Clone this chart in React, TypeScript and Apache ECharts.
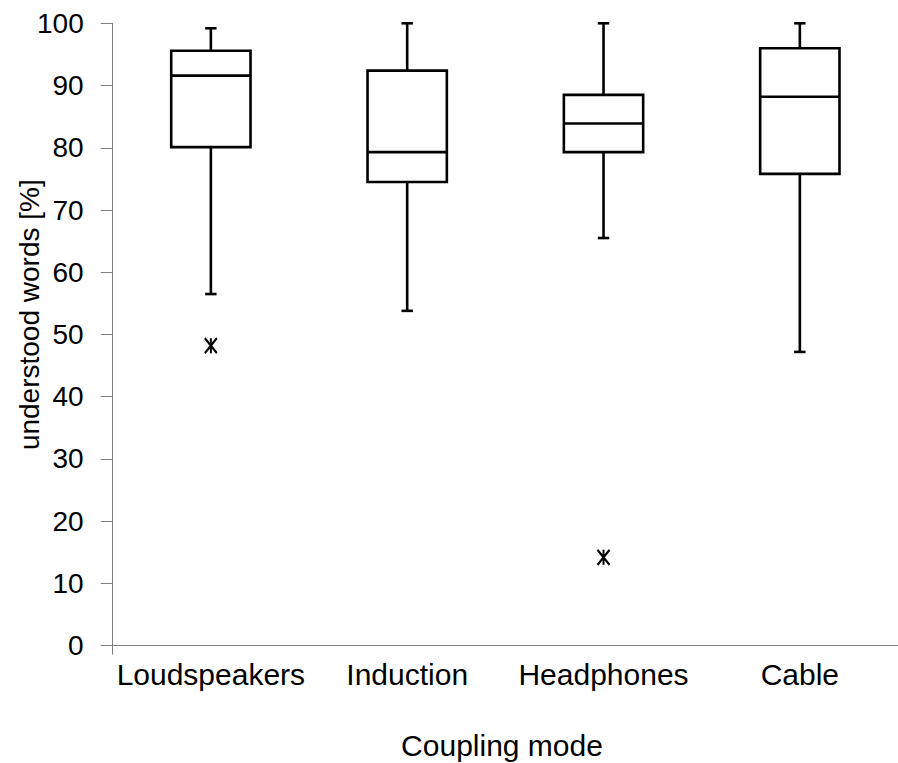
import React, { useEffect, useRef } from "react";
import * as echarts from "echarts";

const categories = ["Loudspeakers", "Induction", "Headphones", "Cable"];
const whiskerLow = [56.5, 53.8, 65.5, 47.2];
const quartile1 = [80.1, 74.5, 79.3, 75.8];
const medians = [91.6, 79.3, 83.9, 88.2];
const quartile3 = [95.6, 92.4, 88.5, 96.0];
const whiskerHigh = [99.2, 100, 100, 100];
const outlierCategory = [0, 2];
const outlierValue = [48.2, 14.2];
const yTicks = { min: 0, max: 100, interval: 10 };
const xTitle = "Coupling mode";
const yTitle = "understood words [%]";

const FONT = "'Liberation Sans', Arial, sans-serif";

export default function App() {
  const ref = useRef<HTMLDivElement>(null);
  useEffect(() => {
    if (!ref.current) return;
    const chart = echarts.init(ref.current, null, { renderer: "svg" });
    const boxData = categories.map((_, i) => [
      i,
      whiskerLow[i],
      quartile1[i],
      medians[i],
      quartile3[i],
      whiskerHigh[i],
    ]);
    const outData = outlierCategory.map((c, i) => [c, outlierValue[i]]);
    const stroke = "#000";
    const lw = 2.6;
    chart.setOption({
      animation: false,
      backgroundColor: "#fff",
      grid: { left: 112.7, top: 23.3, width: 792, bottom: 117.3 },
      xAxis: {
        type: "category",
        data: categories,
        boundaryGap: true,
        axisLine: { lineStyle: { color: "#808080", width: 1 } },
        axisTick: {
          show: true,
          length: 9,
          interval: (idx: number) => idx === 0,
          lineStyle: { color: "#808080" },
        },
        axisLabel: {
          fontSize: 30,
          fontFamily: FONT,
          color: "#000",
          margin: 14,
          interval: 0,
        },
        splitLine: { show: false },
      },
      yAxis: {
        type: "value",
        min: yTicks.min,
        max: yTicks.max,
        interval: yTicks.interval,
        axisLine: { show: true, lineStyle: { color: "#808080", width: 1 } },
        axisTick: { show: true, length: 12, lineStyle: { color: "#808080" } },
        axisLabel: {
          fontSize: 28,
          fontFamily: FONT,
          color: "#000",
          margin: 29,
        },
        splitLine: { show: false },
      },
      graphic: [
        {
          type: "text",
          x: 29,
          y: 314.7,
          rotation: Math.PI / 2,
          style: {
            text: yTitle,
            font: `28px ${FONT}`,
            fill: "#000",
            textAlign: "center",
            textVerticalAlign: "middle",
          },
        },
        {
          type: "text",
          x: 502,
          y: 745,
          style: {
            text: xTitle,
            font: `30px ${FONT}`,
            fill: "#000",
            textAlign: "center",
            textVerticalAlign: "middle",
          },
        },
      ],
      series: [
        {
          type: "custom",
          data: boxData,
          encode: { x: 0, y: [1, 2, 3, 4, 5] },
          clip: false,
          renderItem: (params: any, api: any) => {
            const idx = api.value(0);
            const band = api.size([1, 0])[0];
            const half = (band * 0.404) / 2;
            const cap = (band * 0.058) / 2;
            const lo = api.coord([idx, api.value(1)]);
            const q1 = api.coord([idx, api.value(2)]);
            const md = api.coord([idx, api.value(3)]);
            const q3 = api.coord([idx, api.value(4)]);
            const hi = api.coord([idx, api.value(5)]);
            const cx = lo[0];
            const st = { stroke, lineWidth: lw, fill: "none" };
            return {
              type: "group",
              children: [
                { type: "line", shape: { x1: cx, y1: lo[1], x2: cx, y2: q1[1] }, style: st },
                { type: "line", shape: { x1: cx, y1: hi[1], x2: cx, y2: q3[1] }, style: st },
                { type: "line", shape: { x1: cx - cap, y1: lo[1], x2: cx + cap, y2: lo[1] }, style: st },
                { type: "line", shape: { x1: cx - cap, y1: hi[1], x2: cx + cap, y2: hi[1] }, style: st },
                {
                  type: "rect",
                  shape: { x: cx - half, y: q3[1], width: half * 2, height: q1[1] - q3[1] },
                  style: { stroke, lineWidth: lw, fill: "#fff" },
                },
                { type: "line", shape: { x1: cx - half, y1: md[1], x2: cx + half, y2: md[1] }, style: st },
              ],
            };
          },
        },
        {
          type: "scatter",
          data: outData,
          symbol: "path://M0,0L12,15M12,0L0,15M6,0L6,15",
          symbolSize: [12, 15],
          itemStyle: { color: "none", borderColor: "#000", borderWidth: 2.2, opacity: 1 },
        },
      ],
    });
    return () => chart.dispose();
  }, []);
  return (
    <div
      ref={ref}
      style={{ position: "absolute", left: 0, top: 0, width: 898, height: 763, background: "#fff" }}
    />
  );
}
